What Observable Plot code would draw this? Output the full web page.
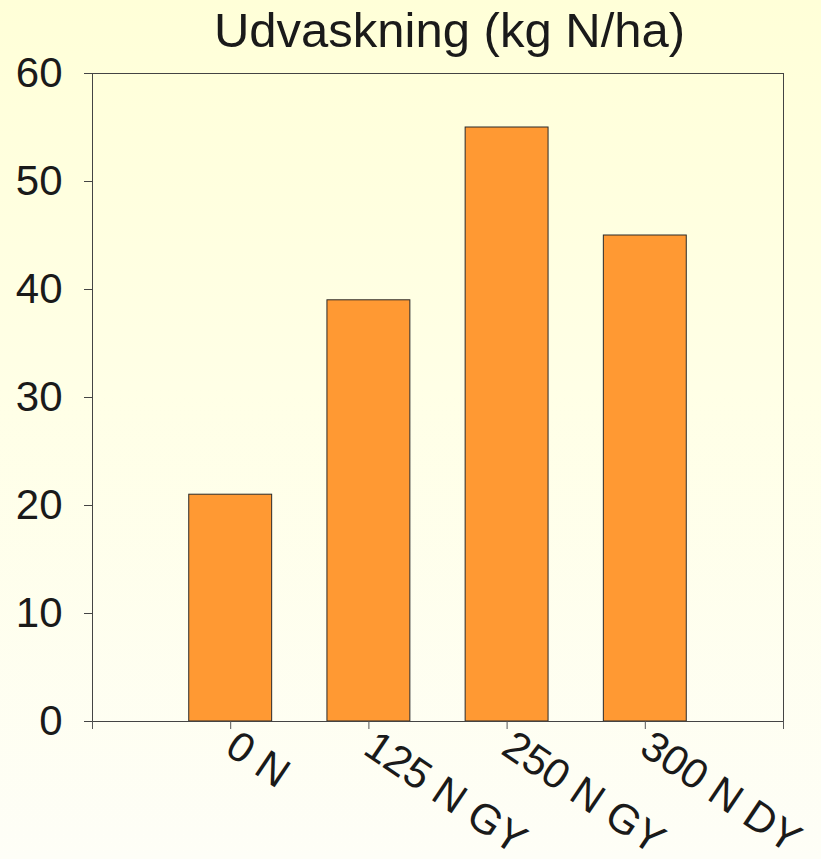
<!DOCTYPE html>
<html>
<head>
<meta charset="utf-8">
<script src="https://cdn.jsdelivr.net/npm/d3@7"></script>
<script src="https://cdn.jsdelivr.net/npm/@observablehq/plot@0.6"></script>
<style>
  html, body { margin: 0; padding: 0; }
  body {
    width: 821px; height: 859px; overflow: hidden;
    background: linear-gradient(to bottom, #FFFFD8 0%, #FFFFE6 45%, #FEFEF7 100%);
    font-family: "Liberation Sans", Arial, sans-serif;
  }
  #title {
    height: 60px; line-height: 60px; font-size: 49px; color: #1a1a1a;
    text-align: center; padding-left: 78px; box-sizing: border-box; width: 821px;
    white-space: nowrap;
  }
</style>
</head>
<body>
<div id="title">Udvaskning (kg N/ha)</div>
<div id="chart"></div>
<script>
const categories = ["0 N", "125 N GY", "250 N GY", "300 N DY"];
const values = [21, 39, 55, 45];
const yTicks = [0, 10, 20, 30, 40, 50, 60];

const data = categories.map((c, i) => ({ category: c, pos: i + 1, value: values[i] }));
const xTicks = d3.range(0, categories.length + 2);

const chart = Plot.plot({
  width: 821,
  height: 799,
  marginLeft: 92,
  marginRight: 38,
  marginTop: 13,
  marginBottom: 138,
  style: { background: "transparent", fontFamily: "'Liberation Sans', Arial, sans-serif", color: "#1a1a1a", overflow: "visible" },
  x: { domain: [0, categories.length + 1] },
  y: { domain: [0, 60] },
  marks: [
    Plot.rectY(data, { x1: d => d.pos - 0.3, x2: d => d.pos + 0.3, y: "value", fill: "#FF9933", stroke: "#2a2a2a", strokeWidth: 1 }),
    Plot.frame({ stroke: "#444" }),
    Plot.axisY({ ticks: yTicks, tickSize: 8, tickPadding: 22, fontSize: 42, tickFormat: d => String(d), stroke: "#444", label: null }),
    Plot.axisX({ ticks: xTicks, tickSize: 8, tickPadding: 12, tickRotate: 34, fontSize: 42,
      tickFormat: i => categories[i - 1] ?? "", stroke: "#555", label: null })
  ]
});
document.getElementById("chart").appendChild(chart);
</script>
</body>
</html>
